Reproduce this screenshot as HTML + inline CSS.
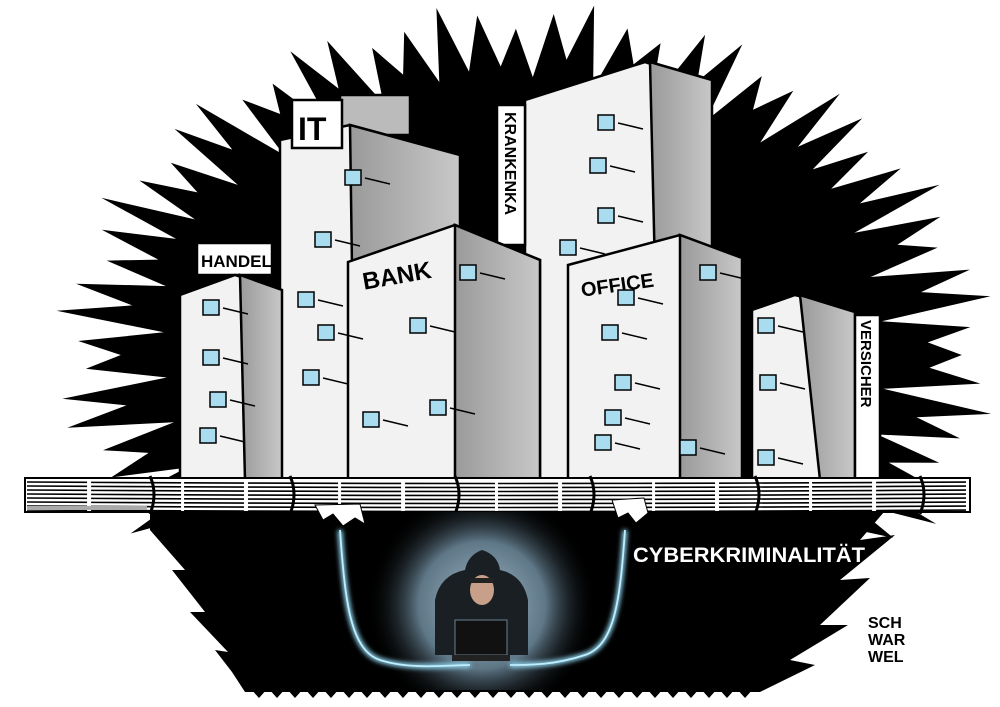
<!DOCTYPE html>
<html><head><meta charset="utf-8"><style>
html,body{margin:0;padding:0;background:#fff;}
svg{display:block;}
text{font-family:"Liberation Sans",sans-serif;font-weight:bold;}
</style></head><body>
<svg id="s" width="1000" height="707" viewBox="0 0 1000 707" xmlns="http://www.w3.org/2000/svg">
<defs>
<radialGradient id="halo" cx="50%" cy="50%" r="50%">
<stop offset="0" stop-color="#9fb4c4"/><stop offset="0.55" stop-color="#5f7888"/><stop offset="1" stop-color="#000" stop-opacity="0"/>
</radialGradient>
<linearGradient id="side" x1="0" x2="1"><stop offset="0" stop-color="#9a9a9a"/><stop offset="1" stop-color="#c8c8c8"/></linearGradient>
<filter id="glow"><feGaussianBlur stdDeviation="2.5"/></filter>
<clipPath id="cl"><rect x="0" y="512" width="1000" height="178"/></clipPath>
</defs>
<path id="blob" fill="#000" d=""/>
<path d="M150,505 L890,505 L860,540 L895,535 L840,580 L870,578 L820,625 L848,625 L790,660 L815,665 L760,692 L245,692 L232,672 L215,650 L228,652 L190,612 L205,612 L172,570 L185,570 L150,530Z" fill="#000"/>
<path id="bot" fill="#000" d=""/>
<g id="bld" stroke="#000" stroke-width="2.5">
<polygon points="525,100 645,62 700,80 712,480 525,480" fill="#f2f2f2"/>
<polygon points="650,62 712,80 712,480 660,480" fill="url(#side)"/>
<rect x="340" y="95" width="70" height="40" fill="#bbb"/>
<polygon points="280,140 350,125 460,155 460,480 280,480" fill="#f2f2f2"/>
<polygon points="350,125 460,155 460,480 355,480" fill="url(#side)"/>
<rect x="292" y="100" width="50" height="48" fill="#fff"/>
<text x="298" y="140" font-size="32" fill="#000" stroke="none">IT</text>
<rect x="497" y="105" width="28" height="140" fill="#fff"/>
<rect x="197" y="243" width="75" height="32" fill="#fff"/>
<text x="201" y="267" font-size="17" fill="#000" stroke="none">HANDEL</text>
<polygon points="180,295 235,275 280,290 280,480 180,480" fill="#f2f2f2"/>
<polygon points="240,275 282,290 282,480 245,480" fill="url(#side)"/>
<polygon points="348,262 455,225 540,260 540,480 348,480" fill="#f2f2f2"/>
<polygon points="455,225 540,260 540,480 455,480" fill="url(#side)"/>
<text x="362" y="285" font-size="24" fill="#000" stroke="none" transform="rotate(-10 390 275)">BANK</text>
<polygon points="568,265 680,235 742,258 742,480 568,480" fill="#f2f2f2"/>
<polygon points="680,235 742,258 742,480 680,480" fill="url(#side)"/>
<text x="580" y="292" font-size="20" fill="#000" stroke="none" transform="rotate(-8 615 280)">OFFICE</text>
<polygon points="752,310 795,295 855,310 855,480 752,480" fill="#f2f2f2"/>
<polygon points="800,295 855,312 855,480 820,480" fill="url(#side)"/>
<rect x="855" y="315" width="25" height="165" fill="#fff"/>
</g>
<g font-size="13" fill="#000">
<text transform="translate(505,112) rotate(90)" font-size="16">KRANKENKA</text>
<text transform="translate(861,320) rotate(90)" font-size="15">VERSICHER</text>
</g>
<g id="win" fill="#a9dcef" stroke="#000" stroke-width="1.5"></g>
<rect x="25" y="478" width="945" height="34" fill="#fff" stroke="#000" stroke-width="2"/>
<g id="lines" stroke="#000" stroke-width="1.6"></g>
<g clip-path="url(#cl)"><circle cx="482" cy="605" r="115" fill="url(#halo)"/></g>
<g fill="none" stroke="#8fd6f0" stroke-width="5" filter="url(#glow)">
<path d="M340,530 C345,600 350,650 380,660 S450,665 470,665"/>
<path d="M625,530 C620,600 615,645 585,655 S530,665 510,665"/>
</g>
<g fill="none" stroke="#bfeeff" stroke-width="1.8">
<path d="M340,530 C345,600 350,650 380,660 S450,665 470,665"/>
<path d="M625,530 C620,600 615,645 585,655 S530,665 510,665"/>
</g>
<path d="M435,655 L435,600 Q440,575 465,570 Q468,555 482,550 Q498,555 500,570 Q523,575 528,600 L528,655 Z" fill="#1a1f24"/>
<ellipse cx="482" cy="590" rx="12" ry="15" fill="#c8a08a"/>
<path d="M470,583 L494,583 L494,578 L470,578Z" fill="#222"/>
<rect x="455" y="620" width="52" height="35" fill="#111" stroke="#6a8090"/>
<rect x="452" y="655" width="58" height="6" fill="#222"/>
<path d="M315,505 l8,15 l10,-6 l10,12 l12,-8 l10,6 l-5,-20Z" fill="#fff" stroke="#000"/>
<path d="M612,500 l6,18 l10,-5 l8,10 l12,-10 l-4,-15Z" fill="#fff" stroke="#000"/>
<text x="633" y="562" font-size="21" fill="#fff" textLength="232" lengthAdjust="spacingAndGlyphs">CYBERKRIMINALITÄT</text>
<g font-size="16" fill="#000" font-weight="normal"><text x="868" y="628">SCH</text><text x="868" y="645">WAR</text><text x="868" y="662">WEL</text></g>
</svg>
<script>
(function(){
var cx=525,cy=355,rx=455,ry=340,n=150,d="";
for(var i=0;i<n;i++){var a=i/n*2*Math.PI;var r=(i%2?0.84+0.05*Math.sin(i*1.7):1.0-0.04*Math.cos(i*2.3));
var x=cx+rx*r*Math.cos(a),y=cy+ry*r*Math.sin(a);
if(y>540)continue;
d+=(d?"L":"M")+x.toFixed(1)+","+y.toFixed(1);}
document.getElementById("blob").setAttribute("d",d+"Z");
var b="M250,688";for(var x=250;x<=750;x+=18){b+="L"+(x+9)+",698L"+(x+18)+",688";}
document.getElementById("bot").setAttribute("d",b+"L750,680L250,680Z");
var w=[[203,300],[203,350],[210,392],[200,428],[345,170],[315,232],[298,292],[318,325],[303,370],[460,265],[410,318],[430,400],[363,412],[598,115],[590,158],[598,208],[560,240],[618,290],[602,325],[615,375],[605,410],[595,435],[680,440],[700,265],[758,318],[760,375],[758,450]];
var g=document.getElementById("win"),s="";
w.forEach(function(p){s+='<rect x="'+p[0]+'" y="'+p[1]+'" width="16" height="15"/><path d="M'+(p[0]+20)+','+(p[1]+8)+' l25,6" fill="none"/>';});
g.innerHTML=s;
var L="";for(var k=0;k<8;k++){var y=482+k*4;L+='<path d="M27,'+y+' Q500,'+(y+3)+' 968,'+y+'" fill="none" stroke-dasharray="60 4 90 3"/>';}
L+='<rect x="27" y="506" width="120" height="4" fill="#aaa" stroke="none"/>';
[150,290,455,590,755,920].forEach(function(x){L+='<path d="M'+x+',476 q8,18 0,38" stroke-width="3" fill="none"/>';});
document.getElementById("lines").innerHTML=L;
})();
</script>
</body></html>
